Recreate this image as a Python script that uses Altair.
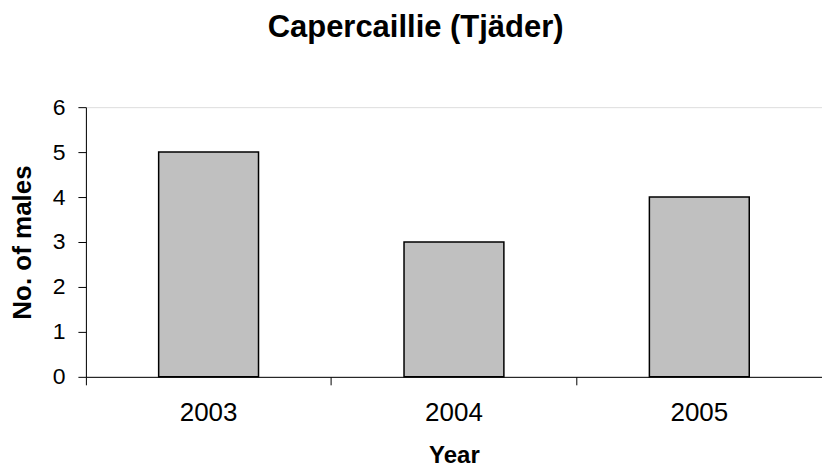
import altair as alt
import pandas as pd

years = ["2003", "2004", "2005"]
males = [5, 3, 4]
y_ticks = [0, 1, 2, 3, 4, 5, 6]

df = pd.DataFrame({"year": years, "males": males})

FONT = "Liberation Sans"

y_enc = alt.Y(
    "males:Q",
    scale=alt.Scale(domain=[0, 6], nice=False),
    axis=alt.Axis(
        values=y_ticks,
        grid=False,
        tickSize=8,
        tickColor="#000000",
        domainColor="#000000",
        labelPadding=13,
        labelFontSize=23,
        labelColor="#000000",
        labelFont=FONT,
        title="No. of males",
        titleFont=FONT,
        titleFontSize=26,
        titleFontWeight="bold",
        titleColor="#000000",
        titlePadding=17,
    ),
)

x_scale = alt.Scale(paddingInner=0, paddingOuter=0)

bars = alt.Chart(df).mark_bar(
    width=alt.RelativeBandSize(0.407),
    fill="#C0C0C0",
    stroke="#000000",
    strokeWidth=1.5,
).encode(
    x=alt.X(
        "year:N",
        sort=years,
        scale=x_scale,
        axis=alt.Axis(
            orient="bottom",
            labelAngle=0,
            ticks=False,
            tickSize=0,
            domain=False,
            labelPadding=23,
            labelFontSize=26,
            labelColor="#000000",
            labelFont=FONT,
            title="Year",
            titleFont=FONT,
            titleFontSize=24,
            titleFontWeight="bold",
            titleColor="#000000",
            titlePadding=18,
        ),
    ),
    y=y_enc,
)

tick_layer = alt.Chart(df).mark_bar(opacity=0).encode(
    x=alt.X(
        "year:N",
        sort=years,
        scale=x_scale,
        axis=alt.Axis(
            orient="bottom",
            bandPosition=0,
            labels=False,
            ticks=True,
            tickSize=8,
            tickColor="#000000",
            domain=True,
            domainColor="#000000",
            title=None,
        ),
    ),
    y=y_enc,
)

chart = (
    alt.layer(bars, tick_layer)
    .resolve_axis(x="independent")
    .properties(
        width=737,
        height=270,
        padding={"left": 1, "top": 4, "right": 0, "bottom": 0},
        title=alt.TitleParams(
            text="Capercaillie (Tjäder)",
            font=FONT,
            fontSize=31,
            fontWeight="bold",
            color="#000000",
            anchor="middle",
            frame="bounds",
            offset=52,
        ),
    )
    .configure_view(stroke=None)
    .configure(background="white")
)

chart.save("out.html", embed_options={"renderer": "svg", "actions": False})
